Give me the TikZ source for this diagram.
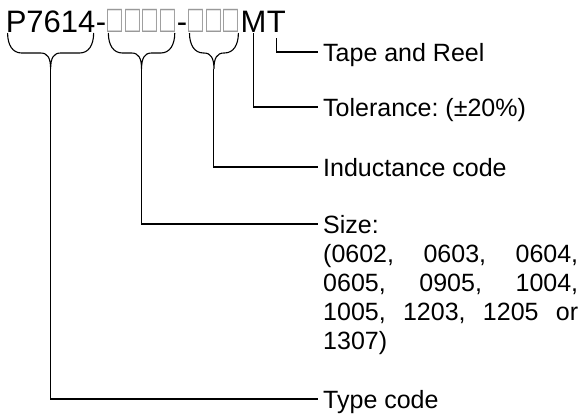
\documentclass[tikz,border=0pt]{standalone}
\usepackage{fontspec}
\setmainfont{Liberation Sans}
\usepackage{graphicx}
\usepackage{xcolor}
\usetikzlibrary{positioning}
\usetikzlibrary{calc}

\definecolor{boxgray}{gray}{0.6}
\newcommand{\phbox}{\makebox[17.5pt]{\textcolor{boxgray}{\scalebox{0.8}[1.25]{□}}}}
\frenchspacing

\begin{document}
\begin{tikzpicture}[x=1pt, y=-1pt,
    title/.style={inner sep=0pt, anchor=base west, font=\fontsize{31}{37}\selectfont},
    lbl/.style={inner xsep=5pt, inner ysep=0pt, font=\fontsize{25}{29}\selectfont},
    tag/.style={lbl, anchor=west, text height=18pt, text depth=0pt},
    lead/.style={line width=1.1pt}]
    \useasboundingbox (0,0) rectangle (584,413);

    % part number, one node per field
    \node[title] (typepart) at (5.6,32) {P7614};
    \node[title] (dashA) at (typepart.base east) {-};
    \node[title] (sizepart) at (dashA.base east) {\phbox\phbox\phbox\phbox};
    \node[title] (dashB) at (sizepart.base east) {-};
    \node[title] (indpart) at (dashB.base east) {\phbox\phbox\phbox};
    \node[title] (tolpart) at (indpart.base east) {M};
    \node[title] (packpart) at (tolpart.base east) {T};

    % field descriptions
    \node[tag] (packlbl) at (318,52) {Tape and Reel};
    \node[tag] (tollbl) at (318,107) {Tolerance: (±20\%)};
    \node[tag] (indlbl) at (318,167) {Inductance code};
    \node[tag] (sizelbl) at (318,224) {Size:};
    \node[lbl, text width=255pt, align=justify, below=11pt of sizelbl.south west, anchor=north west] (sizelist)
        {(0602, 0603, 0604,\linebreak 0605, 0905, 1004,\linebreak 1005, 1203, 1205 or\linebreak 1307)};
    \node[tag] (typelbl) at (318,399) {Type code};

    % braces under the fields
    \foreach \part in {typepart, sizepart, indpart} {
        \coordinate (\part-l) at ([xshift=2pt, yshift=-1pt]\part.base west);
        \coordinate (\part-r) at ([xshift=-2pt, yshift=-1pt]\part.base east);
        \coordinate (\part-m) at ($(\part-l)!0.5!(\part-r)$);
        \coordinate (\part-tip) at ($(\part-m)+(0,36)$);
        \draw[lead] (\part-l) .. controls ($(\part-l)+(0,12)$) and ($(\part-l)+(5,20)$) .. ($(\part-l)+(14,20)$)
            -- ($(\part-m)+(-10,20)$) .. controls ($(\part-m)+(-3,20)$) and ($(\part-m)+(0,25)$) .. (\part-tip)
            .. controls ($(\part-m)+(0,25)$) and ($(\part-m)+(3,20)$) .. ($(\part-m)+(10,20)$)
            -- ($(\part-r)+(-14,20)$) .. controls ($(\part-r)+(-5,20)$) and ($(\part-r)+(0,12)$) .. (\part-r);
    }

    % leaders
    \draw[lead] (typepart-tip) |- (typelbl.west);
    \draw[lead] (sizepart-tip) |- (sizelbl.west);
    \draw[lead] (indpart-tip) |- (indlbl.west);
    \draw[lead] ([yshift=-1pt]tolpart.base) |- (tollbl.west);
    \draw[lead] ([yshift=-6pt]packpart.base) |- (packlbl.west);
\end{tikzpicture}
\end{document}
